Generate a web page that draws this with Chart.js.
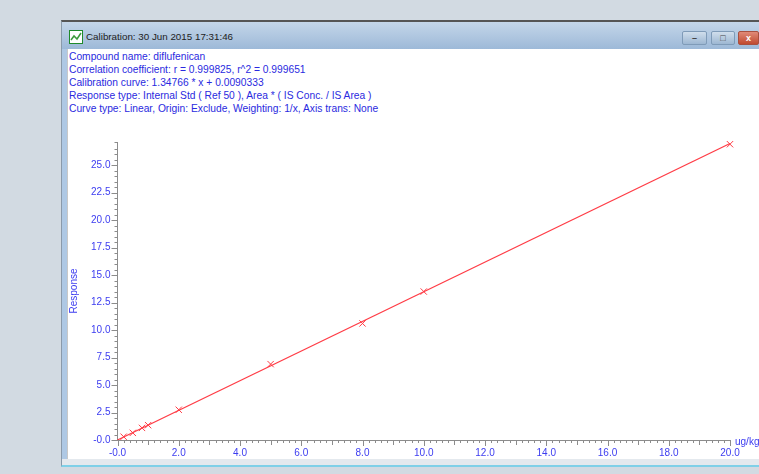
<!DOCTYPE html>
<html>
<head>
<meta charset="utf-8">
<title>Calibration</title>
<script src="https://cdn.jsdelivr.net/npm/chart.js@4"></script>
<style>
    html, body { margin: 0; padding: 0; width: 759px; height: 474px; overflow: hidden; background: #d2dae2; }
    #wrap { position: absolute; left: 0; top: 0; width: 759px; height: 474px; filter: blur(0.6px); }
    #frame { position: absolute; left: 61px; top: 20px; width: 698px; height: 447px; background: #aec8e4; border-top: 2px solid #555; border-left: 1px solid #8a9aaa; box-sizing: border-box; border-bottom: 2px solid #7fd0e8; }
    #bar { position: absolute; left: 62px; top: 22px; width: 697px; height: 27px; background: linear-gradient(#c4d6e9, #9db9d8); }
    #icon { position: absolute; left: 69px; top: 30px; width: 14px; height: 14px; }
    #title { position: absolute; left: 86px; top: 31px; font: 9.8px "Liberation Sans", Arial, sans-serif; color: #222; white-space: nowrap; }
    .btn { position: absolute; top: 31px; height: 14px; border: 1px solid #7f9bb8; border-radius: 2px; background: linear-gradient(#d0deec, #9db7d2); box-sizing: border-box; color: #444; font: bold 9px "Liberation Sans", sans-serif; text-align: center; line-height: 12px; }
    #sheet { position: absolute; left: 67px; top: 49px; width: 692px; height: 410px; background: #fff; border-left: 1px solid #c8c8c8; box-sizing: border-box; }
    #sheetEdge { position: absolute; left: 62px; top: 459px; width: 697px; height: 6px; background: #e4e9ee; }
    #info { position: absolute; left: 69px; top: 51px; font: 10.25px/12.9px "Liberation Sans", Arial, sans-serif; color: #2a2ae0; white-space: nowrap; }
    #cv { position: absolute; left: 0; top: 0; }
</style>
</head>
<body>
<div id="wrap">
    <div id="frame"></div>
    <div id="bar"></div>
    <svg id="icon" viewBox="0 0 14 14"><rect x="0.5" y="0.5" width="13" height="13" fill="#fff" stroke="#1f8a2c"/><path d="M2 10 L5 6 L8 9 L12 3" fill="none" stroke="#3a9a3a" stroke-width="1.5"/></svg>
    <div id="title">Calibration: 30 Jun 2015 17:31:46</div>
    <div class="btn" style="left:682px;width:25px">&#8211;</div>
    <div class="btn" style="left:711px;width:24px">&#9633;</div>
    <div class="btn" style="left:738px;width:21px;background:linear-gradient(#e08a78,#c04a30);color:#fff;border-color:#a85040">x</div>
    <div id="sheet"></div>
    <div id="sheetEdge"></div>
    <div id="info">
        Compound name: diflufenican<br>
        Correlation coefficient: r = 0.999825, r^2 = 0.999651<br>
        Calibration curve: 1.34766 * x + 0.0090333<br>
        Response type: Internal Std ( Ref 50 ), Area * ( IS Conc. / IS Area )<br>
        Curve type: Linear, Origin: Exclude, Weighting: 1/x, Axis trans: None
    </div>
    <canvas id="cv" width="759" height="474"></canvas>
</div>
<script>
const concentrations = [0.2, 0.5, 0.8, 1.0, 2.0, 5.0, 8.0, 10.0, 20.0];
const responses = [0.3, 0.65, 1.1, 1.35, 2.75, 6.9, 10.6, 13.5, 26.9];
const fitX = [0.0, 20.0];
const fitY = [0.0, 26.96];
const xTickLabels = ['-0.0', '2.0', '4.0', '6.0', '8.0', '10.0', '12.0', '14.0', '16.0', '18.0', '20.0'];
const yTickLabels = ['-0.0', '2.5', '5.0', '7.5', '10.0', '12.5', '15.0', '17.5', '20.0', '22.5', '25.0'];
const xUnit = 'ug/kg';
const yName = 'Response';

const BLUE = '#3c3cf0';
const RED = '#ff3c46';
const AXIS = '#8c8c8c';
const FONT = { family: '"Liberation Sans", Arial, sans-serif', size: 10 };

// little ticks like the original, the library only gives one length
const axisTicks = {
    id: 'axisTicks',
    afterDraw(chart) {
        const { ctx, scales: { x, y } } = chart;
        ctx.save();
        ctx.strokeStyle = AXIS;
        ctx.lineWidth = 1;
        ctx.beginPath();
        x.ticks.forEach((t) => {
            const px = Math.round(x.getPixelForValue(t.value)) + 0.5;
            const n = Math.round(t.value * 10);
            const len = n % 20 === 0 ? 6 : n % 10 === 0 ? 5 : 3;
            ctx.moveTo(px, x.top);
            ctx.lineTo(px, x.top + len);
        });
        y.ticks.forEach((t) => {
            const py = Math.round(y.getPixelForValue(t.value)) + 0.5;
            const len = Math.round(t.value * 10) % 25 === 0 ? 6 : 3;
            ctx.moveTo(y.right, py);
            ctx.lineTo(y.right - len, py);
        });
        ctx.stroke();
        ctx.fillStyle = BLUE;
        ctx.font = FONT.size + 'px ' + FONT.family;
        ctx.textBaseline = 'middle';
        ctx.fillText(xUnit, x.right + 5, x.top + 2);
        ctx.restore();
    }
};

new Chart(document.getElementById('cv'), {
    type: 'scatter',
    data: {
        datasets: [{
            label: 'fit',
            data: fitX.map((v, i) => ({ x: v, y: fitY[i] })),
            showLine: true,
            borderColor: RED,
            borderWidth: 1.3,
            pointRadius: 0,
            clip: false
        }, {
            label: 'standards',
            data: concentrations.map((v, i) => ({ x: v, y: responses[i] })),
            pointStyle: 'crossRot',
            pointRadius: 4.5,
            pointBorderColor: RED,
            pointBorderWidth: 1,
            clip: false
        }]
    },
    options: {
        responsive: false,
        animation: false,
        layout: { padding: { left: 68, right: 29, top: 142, bottom: 0 } },
        plugins: { legend: { display: false }, tooltip: { enabled: false } },
        scales: {
            x: {
                type: 'linear',
                min: 0,
                max: 20,
                afterFit: (s) => { s.height = 34; },
                border: { color: AXIS },
                grid: { drawOnChartArea: false, drawTicks: false },
                ticks: {
                    stepSize: 0.2,
                    autoSkip: false,
                    maxRotation: 0,
                    padding: 7,
                    color: BLUE,
                    font: FONT,
                    callback: (v) => {
                        const n = Math.round(v * 10);
                        return n % 20 === 0 ? xTickLabels[n / 20] : '';
                    }
                }
            },
            y: {
                type: 'linear',
                min: 0,
                max: 27.1,
                afterFit: (s) => { s.width = 49.5; },
                border: { color: AXIS },
                grid: { drawOnChartArea: false, drawTicks: false },
                title: { display: true, text: yName, color: BLUE, font: FONT, padding: 0 },
                ticks: {
                    stepSize: 0.5,
                    autoSkip: false,
                    padding: 7,
                    color: BLUE,
                    font: FONT,
                    callback: (v) => {
                        const n = Math.round(v * 10);
                        return n % 25 === 0 ? yTickLabels[n / 25] : '';
                    }
                }
            }
        }
    },
    plugins: [axisTicks]
});
</script>
</body>
</html>
